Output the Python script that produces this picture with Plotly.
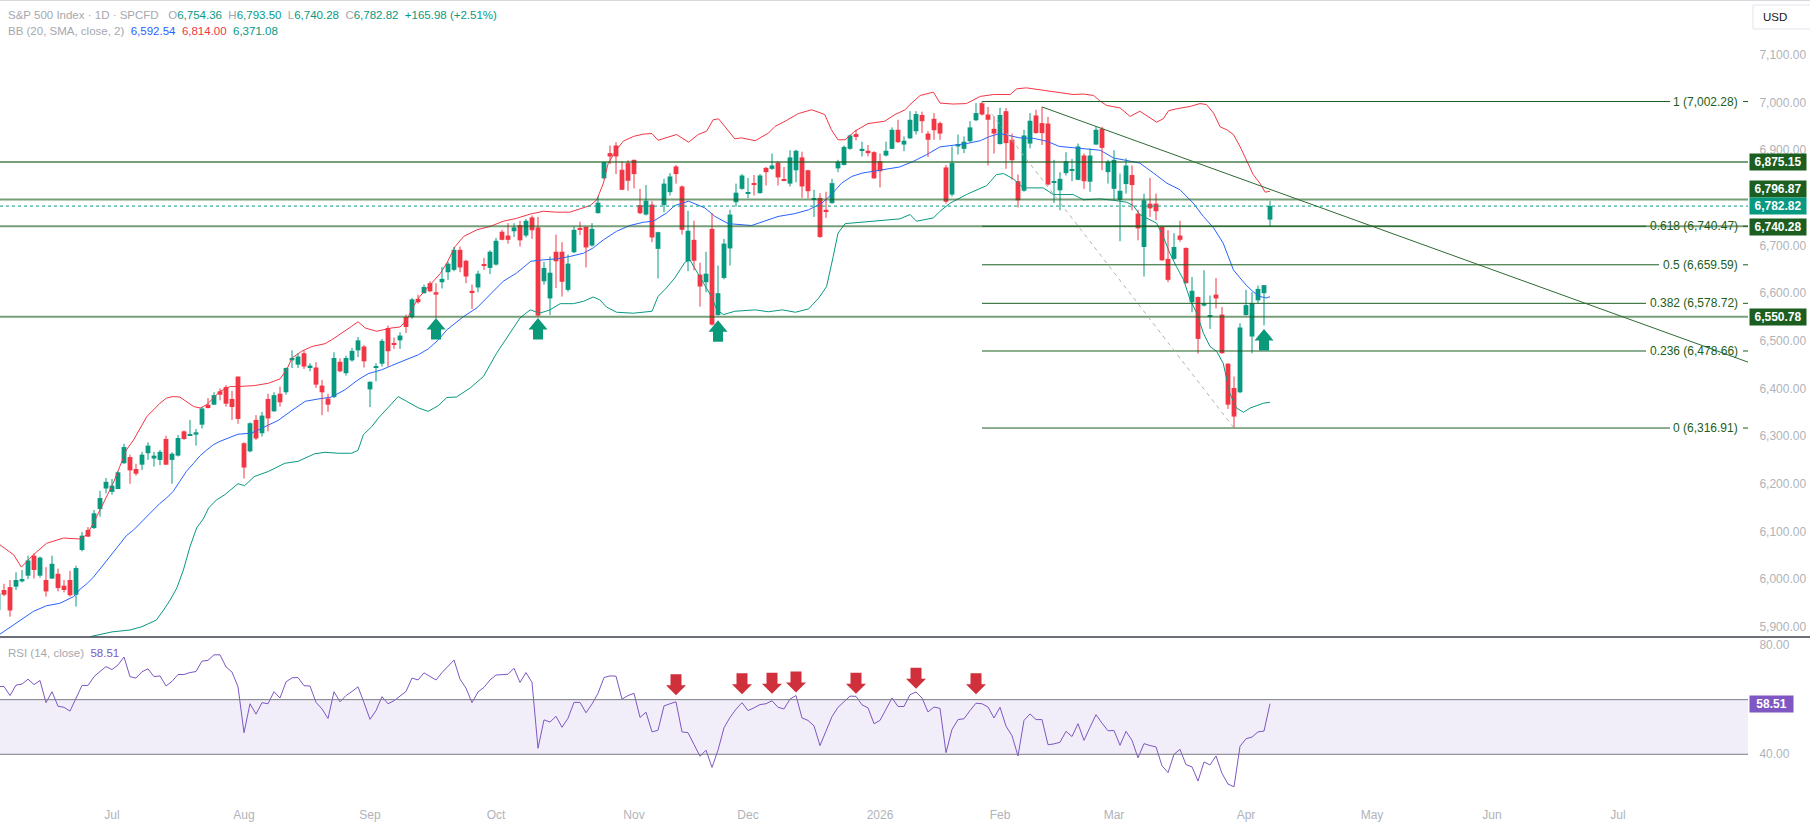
import plotly.graph_objects as go

# ---------------- data ----------------
first_bar = -19  # bar index 0 = 1 Jul 2025
open_ = [5935, 5977, 5983, 5984, 5995, 6007, 6049, 6007, 5998, 6001,
         6011, 5986, 5998, 5967, 6061, 6103, 6107, 6147, 6190, 6183,
         6189, 6243, 6256, 6231, 6240, 6264, 6253, 6250, 6294, 6250,
         6259, 6310, 6301, 6303, 6324, 6366, 6366, 6394, 6403, 6378,
         6425, 6285, 6268, 6334, 6306, 6378, 6352, 6389, 6392, 6459,
         6450, 6474, 6443, 6444, 6406, 6379, 6382, 6456, 6432, 6459,
         6480, 6488, 6398, 6443, 6452, 6527, 6495, 6501, 6550, 6550,
         6588, 6600, 6621, 6602, 6623, 6644, 6649, 6691, 6668, 6605,
         6612, 6660, 6653, 6660, 6729, 6721, 6730, 6743, 6721, 6759,
         6738, 6625, 6589, 6687, 6687, 6607, 6686, 6736, 6739, 6700,
         6768, 6841, 6894, 6910, 6859, 6873, 6880, 6785, 6765, 6786,
         6693, 6785, 6812, 6866, 6824, 6667, 6712, 6639, 6623, 6735,
         6554, 6632, 6694, 6791, 6819, 6810, 6830, 6810, 6863, 6861,
         6874, 6839, 6830, 6858, 6885, 6858, 6796, 6800, 6775, 6789,
         6862, 6869, 6903, 6934, 6900, 6899, 6896, 6877, 6889, 6903,
         6943, 6912, 6925, 6940, 6974, 6935, 6966, 6957, 6864, 6807,
         6908, 6903, 6919, 6963, 6999, 6975, 6945, 6913, 6982, 6922,
         6835, 6815, 6914, 6973, 6957, 6956, 6833, 6816, 6852, 6858,
         6838, 6889, 6834, 6912, 6945, 6854, 6819, 6796, 6829, 6848,
         6767, 6697, 6788, 6788, 6739, 6672, 6672, 6721, 6695, 6581,
         6592, 6574, 6551, 6597, 6555, 6452, 6401, 6392, 6554, 6509,
         6585, 6600, 6754.36]
high_ = [5975, 5990, 5998, 6014, 6019, 6049, 6054, 6047, 6025, 6049,
         6022, 5998, 6017, 6028, 6099, 6109, 6145, 6185, 6212, 6210,
         6226, 6284, 6261, 6242, 6267, 6287, 6267, 6271, 6301, 6266,
         6302, 6312, 6334, 6315, 6361, 6380, 6392, 6400, 6407, 6395,
         6425, 6287, 6329, 6344, 6351, 6389, 6392, 6404, 6444, 6480,
         6474, 6480, 6453, 6455, 6418, 6389, 6476, 6463, 6469, 6485,
         6508, 6491, 6415, 6453, 6504, 6532, 6507, 6518, 6555, 6590,
         6597, 6618, 6625, 6621, 6655, 6666, 6697, 6698, 6670, 6618,
         6647, 6674, 6690, 6716, 6733, 6747, 6747, 6752, 6756, 6763,
         6760, 6666, 6677, 6723, 6707, 6681, 6740, 6750, 6740, 6747,
         6803, 6876, 6910, 6917, 6877, 6879, 6880, 6819, 6827, 6793,
         6729, 6840, 6852, 6869, 6826, 6773, 6752, 6664, 6687, 6768,
         6658, 6714, 6775, 6830, 6850, 6842, 6848, 6850, 6865, 6893,
         6877, 6865, 6900, 6901, 6897, 6859, 6817, 6810, 6813, 6840,
         6880, 6910, 6933, 6943, 6918, 6911, 6898, 6893, 6918, 6948,
         6964, 6929, 6982, 6982, 6981, 6940, 6978, 6960, 6869, 6908,
         6933, 6929, 6961, 6999, 7002.28, 6991, 6971, 6989, 6989, 6935,
         6849, 6943, 6978, 6985, 6991, 6970, 6880, 6854, 6896, 6882,
         6914, 6893, 6904, 6950, 6949, 6880, 6900, 6851, 6883, 6868,
         6775, 6809, 6842, 6809, 6740, 6732, 6726, 6752, 6696, 6634,
         6593, 6648, 6595, 6632, 6571, 6453, 6425, 6537, 6607, 6602,
         6616, 6617, 6793.50]
low_ = [5930, 5964, 5921, 5977, 5993, 6000, 6001, 6003, 5963, 6000,
        5974, 5972, 5963, 5942, 6058, 6088, 6105, 6131, 6180, 6177,
        6189, 6242, 6200, 6217, 6229, 6250, 6236, 6239, 6239, 6200,
        6257, 6292, 6301, 6280, 6316, 6358, 6365, 6375, 6362, 6334,
        6326, 6211, 6266, 6292, 6299, 6310, 6351, 6362, 6387, 6443,
        6443, 6441, 6436, 6401, 6344, 6351, 6380, 6434, 6427, 6456,
        6466, 6444, 6361, 6415, 6446, 6446, 6483, 6483, 6516, 6546,
        6578, 6599, 6602, 6548, 6610, 6628, 6646, 6644, 6621, 6567,
        6602, 6649, 6640, 6658, 6711, 6704, 6718, 6698, 6717, 6714,
        6551, 6618, 6554, 6611, 6593, 6603, 6684, 6722, 6654, 6698,
        6767, 6840, 6871, 6850, 6817, 6815, 6820, 6766, 6763, 6707,
        6631, 6770, 6805, 6830, 6723, 6646, 6648, 6572, 6602, 6532,
        6553, 6629, 6658, 6782, 6817, 6799, 6805, 6809, 6826, 6859,
        6826, 6835, 6824, 6833, 6800, 6799, 6760, 6716, 6758, 6788,
        6854, 6868, 6901, 6921, 6887, 6887, 6840, 6822, 6887, 6902,
        6915, 6898, 6924, 6933, 6936, 6886, 6922, 6922, 6788, 6803,
        6891, 6894, 6917, 6961, 6973, 6868, 6893, 6912, 6861, 6838,
        6780, 6813, 6904, 6935, 6911, 6826, 6789, 6774, 6847, 6835,
        6837, 6819, 6813, 6911, 6858, 6830, 6796, 6709, 6809, 6774,
        6711, 6635, 6760, 6753, 6668, 6623, 6670, 6708, 6620, 6560,
        6473, 6572, 6525, 6568, 6473, 6357, 6316.91, 6390, 6553, 6474,
        6579, 6532, 6740.28]
close_ = [5970, 5967, 5934, 5998, 6000, 6039, 6019, 6045, 5974, 6032,
          5981, 5977, 5966, 6023, 6091, 6089, 6138, 6170, 6204, 6196,
          6224, 6277, 6228, 6221, 6261, 6280, 6259, 6267, 6240, 6263,
          6296, 6294, 6303, 6308, 6358, 6359, 6386, 6387, 6368, 6361,
          6336, 6234, 6327, 6295, 6343, 6337, 6386, 6371, 6443, 6464,
          6467, 6446, 6448, 6408, 6392, 6366, 6464, 6436, 6464, 6479,
          6501, 6457, 6414, 6446, 6500, 6478, 6493, 6511, 6529, 6587,
          6581, 6613, 6604, 6597, 6630, 6662, 6691, 6654, 6635, 6602,
          6641, 6658, 6687, 6710, 6712, 6712, 6738, 6711, 6752, 6732,
          6553, 6653, 6643, 6667, 6624, 6662, 6733, 6734, 6696, 6735,
          6790, 6875, 6887, 6887, 6817, 6836, 6850, 6768, 6794, 6717,
          6728, 6830, 6845, 6850, 6733, 6731, 6668, 6614, 6641, 6534,
          6600, 6704, 6765, 6811, 6847, 6811, 6829, 6847, 6854, 6868,
          6843, 6837, 6885, 6899, 6824, 6814, 6798, 6718, 6772, 6831,
          6876, 6907, 6931, 6928, 6903, 6894, 6841, 6856, 6899, 6943,
          6917, 6920, 6964, 6976, 6961, 6922, 6942, 6935, 6792, 6873,
          6913, 6918, 6948, 6978, 6975, 6964, 6935, 6974, 6915, 6879,
          6795, 6931, 6962, 6936, 6936, 6828, 6835, 6840, 6877, 6859,
          6908, 6835, 6889, 6943, 6905, 6876, 6880, 6815, 6868, 6827,
          6736, 6795, 6778, 6772, 6669, 6628, 6697, 6712, 6621, 6605,
          6504, 6579, 6554, 6589, 6474, 6366, 6341, 6528, 6575, 6579,
          6609, 6616.84, 6782.82]
rsi_values = [64.8, 64.8, 61.5, 65.3, 65.7, 67.5, 65.5, 67.0, 58.9, 62.9,
              57.6, 57.2, 55.8, 60.5, 65.2, 65.2, 68.4, 70.3, 72.1, 71.0,
              72.7, 75.6, 68.4, 67.9, 70.2, 71.3, 68.4, 68.7, 65.0, 66.7,
              69.2, 69.2, 69.9, 70.3, 74.1, 74.4, 76.4, 76.4, 72.0, 70.1,
              64.7, 47.9, 58.5, 54.7, 58.9, 58.5, 62.9, 60.6, 66.5, 68.0,
              68.1, 65.1, 65.0, 59.0, 56.6, 53.1, 62.9, 59.2, 61.5, 63.0,
              64.7, 58.9, 52.8, 56.0, 61.1, 58.5, 59.6, 61.3, 63.0, 67.9,
              67.2, 69.8, 68.4, 67.2, 69.9, 72.4, 74.5, 67.5, 64.2, 58.9,
              62.8, 64.5, 67.2, 69.0, 69.2, 69.3, 71.5, 66.3, 69.9, 66.3,
              42.2, 52.6, 51.8, 53.9, 49.9, 53.2, 59.0, 59.0, 55.2, 58.4,
              62.3, 68.1, 68.7, 68.6, 60.2, 61.5, 62.3, 53.5, 55.4, 48.2,
              48.8, 57.7, 58.5, 59.2, 48.2, 47.9, 43.6, 39.3, 41.5, 35.2,
              41.5, 49.7, 53.5, 56.5, 58.9, 56.0, 57.0, 58.2, 58.5, 59.6,
              57.2, 56.6, 60.2, 61.5, 53.3, 52.4, 50.4, 43.2, 48.5, 53.8,
              57.2, 59.4, 61.3, 61.2, 58.1, 57.0, 51.2, 52.4, 56.6, 60.6,
              57.5, 57.5, 61.8, 62.8, 60.6, 55.5, 57.3, 56.8, 40.6, 49.1,
              52.7, 53.0, 56.0, 58.7, 58.5, 57.3, 53.3, 57.2, 50.3, 46.8,
              39.4, 52.4, 54.8, 52.7, 52.7, 43.5, 43.8, 44.4, 48.4, 46.5,
              51.2, 45.1, 49.9, 54.5, 51.4, 48.6, 48.7, 43.3, 48.4, 45.1,
              38.7, 43.9, 43.2, 42.7, 35.8, 33.3, 40.0, 41.8, 36.2, 35.4,
              30.2, 37.2, 36.1, 39.4, 33.0, 29.1, 28.1, 42.9, 45.7, 46.3,
              48.2, 48.5, 58.51]

# Bollinger bands (20, 2) sampled along the picture: (bar index, price)
bb_upper_pts = [(-18.7, 6072), (-16.4, 6051), (-15.1, 6025), (-13.1, 6051), (-10.9, 6075), (-8.1, 6086),
                (-5.3, 6084), (-4.2, 6093), (-3.1, 6117), (-2.0, 6145), (-0.9, 6173), (0.2, 6201), (1.3, 6236),
                (2.4, 6271), (3.6, 6292), (4.7, 6317), (5.8, 6341), (6.9, 6355), (8.0, 6369), (9.1, 6380),
                (10.2, 6383), (11.3, 6382), (12.4, 6373), (13.6, 6362), (14.7, 6359), (15.8, 6366), (16.9, 6380),
                (18.0, 6394), (19.7, 6404), (21.0, 6404), (23.7, 6406), (26.1, 6411), (28.0, 6420), (29.1, 6439),
                (30.0, 6464), (31.6, 6478), (33.3, 6488), (35.5, 6494), (36.6, 6502), (38.8, 6520), (39.9, 6530),
                (41.0, 6540), (42.2, 6527), (44.1, 6520), (45.2, 6523), (46.6, 6527), (48.0, 6529), (49.1, 6543),
                (50.2, 6572), (51.3, 6593), (52.4, 6609), (53.5, 6625), (54.7, 6641), (55.8, 6663), (57.2, 6698),
                (58.6, 6719), (60.8, 6733), (63.0, 6740), (65.2, 6751), (67.4, 6757), (69.7, 6766), (71.9, 6772),
                (74.1, 6770), (76.3, 6770), (78.0, 6777), (79.7, 6784), (80.8, 6796), (81.9, 6831), (82.7, 6873),
                (84.1, 6901), (85.2, 6919), (86.9, 6929), (88.6, 6934), (90.0, 6935), (91.0, 6921), (94.1, 6933),
                (96.1, 6917), (97.7, 6933), (99.1, 6940), (100.2, 6964), (101.1, 6966), (103.8, 6924), (104.9, 6926),
                (107.2, 6920), (109.4, 6936), (110.5, 6950), (112.2, 6961), (114.4, 6977), (116.6, 6985),
                (118.8, 6975), (119.9, 6943), (121.0, 6922), (122.2, 6922), (123.8, 6940), (126.0, 6956),
                (128.8, 6961), (130.5, 6975), (132.2, 6985), (133.0, 6996), (134.7, 7015), (136.9, 7022),
                (138.0, 6999), (140.2, 6997), (142.4, 6998), (144.7, 7013), (146.9, 7017), (149.7, 7017),
                (150.8, 7029), (152.4, 7031), (154.7, 7027), (156.9, 7023), (158.6, 7020), (160.2, 7017),
                (161.9, 7018), (163.6, 7015), (164.7, 7003), (165.8, 6994), (168.0, 6989), (169.7, 6971),
                (171.3, 6982), (173.0, 6968), (174.1, 6959), (175.2, 6966), (176.1, 6983), (177.4, 6987),
                (179.7, 6992), (181.3, 6998), (182.4, 6996), (183.6, 6978), (184.7, 6949), (185.8, 6943),
                (186.9, 6933), (188.0, 6908), (189.1, 6877), (190.2, 6849), (191.3, 6831), (192.2, 6812),
                (193.0, 6814.00)]
bb_basis_pts = [(-18.7, 5884), (-17.0, 5898), (-15.1, 5914), (-13.1, 5932), (-10.9, 5944), (-8.7, 5949),
                (-6.4, 5963), (-5.3, 5979), (-4.2, 5990), (-3.1, 6004), (-2.0, 6021), (-0.9, 6039), (0.2, 6056),
                (1.3, 6075), (2.4, 6091), (3.6, 6103), (4.7, 6117), (5.8, 6131), (6.9, 6145), (8.0, 6159),
                (9.1, 6170), (10.2, 6184), (11.3, 6205), (12.4, 6226), (13.6, 6243), (14.7, 6259), (15.8, 6271),
                (16.9, 6282), (18.0, 6289), (19.7, 6298), (21.0, 6304), (23.2, 6306), (25.5, 6320), (27.7, 6333),
                (30.0, 6354), (32.2, 6373), (34.4, 6378), (36.6, 6382), (38.8, 6397), (41.0, 6418), (42.7, 6431),
                (44.9, 6439), (46.6, 6448), (48.8, 6459), (51.1, 6471), (52.7, 6483), (54.4, 6502), (55.8, 6523),
                (57.2, 6537), (58.6, 6551), (60.8, 6569), (63.0, 6597), (65.2, 6625), (67.4, 6642), (69.8, 6667),
                (71.9, 6670), (74.1, 6672), (76.3, 6677), (78.6, 6684), (80.2, 6695), (81.9, 6712), (84.1, 6730),
                (86.3, 6742), (88.6, 6749), (90.2, 6751), (92.4, 6768), (93.8, 6784), (96.1, 6793), (98.8, 6779),
                (100.5, 6761), (102.7, 6746), (106.6, 6742), (108.8, 6751), (111.0, 6761), (113.8, 6767),
                (116.1, 6775), (118.3, 6789), (119.9, 6807), (121.6, 6831), (123.3, 6845), (125.0, 6852),
                (127.2, 6856), (129.4, 6861), (131.3, 6865), (133.6, 6877), (135.8, 6891), (138.0, 6907),
                (140.2, 6910), (142.4, 6914), (144.7, 6920), (146.3, 6929), (148.0, 6935), (149.7, 6931),
                (151.3, 6926), (153.6, 6925), (155.8, 6919), (157.9, 6908), (160.2, 6905), (162.4, 6903),
                (164.7, 6900), (166.9, 6884), (169.1, 6879), (171.3, 6873), (173.6, 6852), (175.8, 6831),
                (178.0, 6817), (180.2, 6789), (181.9, 6761), (183.6, 6737), (185.2, 6705), (186.9, 6649),
                (188.0, 6632), (189.1, 6616), (190.2, 6603), (191.3, 6593), (192.4, 6590), (193.0, 6592.54)]
bb_lower_pts = [(-18.7, 5800), (-10.0, 5830), (-5.0, 5868), (-3.3, 5880), (0.0, 5889), (3.0, 5893), (5.0, 5900),
                (7.4, 5914), (8.6, 5935), (9.7, 5956), (10.8, 5981), (11.9, 6019), (13.0, 6068), (14.1, 6107),
                (15.2, 6126), (16.1, 6149), (17.4, 6166), (18.8, 6177), (21.0, 6200), (22.1, 6196), (23.7, 6215),
                (26.1, 6226), (28.8, 6243), (31.0, 6247), (33.8, 6263), (35.5, 6266), (37.7, 6264), (39.9, 6264),
                (41.0, 6270), (41.9, 6303), (43.3, 6320), (44.4, 6338), (46.1, 6361), (47.7, 6383), (49.1, 6373),
                (51.1, 6359), (52.7, 6352), (54.4, 6364), (55.8, 6381), (57.4, 6382), (59.7, 6401), (61.9, 6425),
                (64.1, 6474), (65.8, 6506), (68.0, 6548), (69.7, 6565), (71.3, 6558), (73.0, 6565), (74.7, 6578),
                (76.9, 6578), (78.6, 6583), (80.2, 6592), (81.3, 6586), (82.4, 6571), (84.1, 6560), (86.9, 6558),
                (88.6, 6560), (90.0, 6562), (91.0, 6593), (92.4, 6611), (93.8, 6632), (95.5, 6665), (96.3, 6670),
                (97.4, 6646), (98.8, 6618), (99.9, 6593), (100.8, 6565), (101.9, 6555), (103.8, 6562),
                (107.2, 6565), (109.4, 6561), (111.7, 6565), (113.9, 6560), (116.1, 6567), (117.8, 6590),
                (119.1, 6614), (120.2, 6677), (121.0, 6726), (122.2, 6746), (125.0, 6749), (128.3, 6753),
                (131.3, 6756), (133.0, 6765), (134.1, 6751), (136.9, 6758), (138.0, 6772), (139.7, 6789),
                (142.4, 6807), (145.8, 6826), (147.4, 6849), (148.6, 6851), (150.2, 6840), (151.9, 6821),
                (155.2, 6821), (156.9, 6807), (160.2, 6807), (161.9, 6796), (164.7, 6798), (166.9, 6795),
                (169.1, 6791), (170.2, 6784), (171.3, 6765), (173.0, 6754), (174.1, 6747), (175.2, 6719),
                (176.3, 6684), (177.4, 6656), (178.6, 6628), (179.7, 6586), (180.8, 6558), (181.9, 6516),
                (183.0, 6488), (184.1, 6478), (185.2, 6453), (186.3, 6390), (187.4, 6359), (188.6, 6350),
                (189.7, 6359), (190.8, 6364), (191.9, 6369), (193.0, 6371.08)]

month_ticks = [0, 22, 43, 64, 87, 106, 128, 148, 167, 189, 210, 230, 251]
month_labels = ["Jul", "Aug", "Sep", "Oct", "Nov", "Dec", "2026", "Feb", "Mar", "Apr", "May", "Jun", "Jul"]
# 6,800.00 is fully covered by the price labels in the picture, so it is not listed
price_ticks = [5900, 6000, 6100, 6200, 6300, 6400, 6500, 6600, 6700, 6900, 7000, 7100]
rsi_ticks = [40, 80]
rsi_bands = [40, 60]

h_levels = [6875.15, 6796.87, 6740.28, 6550.78]
fib_ratios = ["1", "0.618", "0.5", "0.382", "0.236", "0"]
fib_levels = [7002.28, 6740.47, 6659.59, 6578.72, 6478.66, 6316.91]
fib_start_bar = 145
fib_diag = [(145, 7002.28), (187, 6316.91)]
trend_anchor = [(155, 6991), (193, 6818)]
up_arrows = [(54, 6548), (71, 6548), (101, 6543), (192, 6525)]
down_arrows = [(94, 61.6), (105, 62.0), (110, 62.2), (114, 62.6), (124, 62.2), (134, 64.0), (144, 62.0)]

# ---------------- layout constants ----------------
FIG_W, FIG_H = 1810, 826
M_R, M_B = 62, 26
PW, PH = FIG_W - M_R, FIG_H - M_B
MAIN_H = 637
X_RANGE = [-18.667, 272.667]
Y_RANGE = [5878.3, 7215.4]
RSI_RANGE = [23.27, 82.93]
SPLIT = (PH - MAIN_H) / PH

UP, DOWN = "#089981", "#f23645"
BLUE, PURPLE = "#2962ff", "#7e57c2"
GRAY_TXT = "#a6a8ae"
AX_TXT = "#b0b3b9"
DKGREEN = "#1b5e20"
LVL_LINE = "rgba(27,94,32,0.6)"
FONT = "Liberation Sans"


def px_to_bar(px):
    return X_RANGE[0] + px * (X_RANGE[1] - X_RANGE[0]) / PW


def ypx_paper(py):
    return (PH - py) / PH


bars = list(range(first_bar, first_bar + len(close_)))

fig = go.Figure()

# Bollinger bands
for pts, col in [(bb_upper_pts, DOWN), (bb_lower_pts, UP), (bb_basis_pts, BLUE)]:
    fig.add_trace(go.Scatter(x=[p[0] for p in pts], y=[p[1] for p in pts], mode="lines",
                             line=dict(color=col, width=1), hoverinfo="skip", xaxis="x", yaxis="y"))

# candles: wicks + bodies
for is_up, col in [(True, UP), (False, DOWN)]:
    wx, wy, bx, bb, bh = [], [], [], [], []
    for b, o, h, l, c in zip(bars, open_, high_, low_, close_):
        if (c >= o) != is_up:
            continue
        wx += [b, b, None]
        wy += [l, h, None]
        bx.append(b)
        bb.append(min(o, c))
        bh.append(max(abs(c - o), 1.6))
    fig.add_trace(go.Scatter(x=wx, y=wy, mode="lines", line=dict(color=col, width=1),
                             hoverinfo="skip", xaxis="x", yaxis="y"))
    fig.add_trace(go.Bar(x=bx, y=bh, base=bb, width=0.8, marker=dict(color=col, line=dict(width=0)),
                         hoverinfo="skip", xaxis="x", yaxis="y"))

# RSI
fig.add_trace(go.Scatter(x=bars, y=rsi_values, mode="lines", line=dict(color=PURPLE, width=1),
                         hoverinfo="skip", xaxis="x2", yaxis="y2"))

shapes = []
# RSI band
shapes.append(dict(type="rect", xref="paper", yref="y2", x0=0, x1=1, y0=rsi_bands[0], y1=rsi_bands[1],
                   fillcolor="rgba(126,87,194,0.1)", line=dict(width=0), layer="below"))
for v in rsi_bands:
    shapes.append(dict(type="line", xref="paper", yref="y2", x0=0, x1=1, y0=v, y1=v,
                       line=dict(color="#787b86", width=1)))
# horizontal levels
for v in h_levels:
    shapes.append(dict(type="line", xref="paper", yref="y", x0=0, x1=1, y0=v, y1=v,
                       line=dict(color=LVL_LINE, width=2)))
# last price dotted line
shapes.append(dict(type="line", xref="paper", yref="y", x0=0, x1=1, y0=close_[-1], y1=close_[-1],
                   line=dict(color=UP, width=1, dash="dot")))
# fib retracement
fib_text_left = {"1": 1675, "0": 1675, "0.5": 1664}
for r, v in zip(fib_ratios, fib_levels):
    left = fib_text_left.get(r, 1651)
    shapes.append(dict(type="line", xref="x", yref="y", x0=fib_start_bar, x1=px_to_bar(left - 5), y0=v, y1=v,
                       line=dict(color=DKGREEN, width=1)))
    shapes.append(dict(type="line", xref="paper", yref="y", x0=1743 / PW, x1=1, y0=v, y1=v,
                       line=dict(color=DKGREEN, width=1)))
shapes.append(dict(type="line", xref="x", yref="y", x0=fib_diag[0][0], y0=fib_diag[0][1],
                   x1=fib_diag[1][0], y1=fib_diag[1][1], line=dict(color="#a9bba9", width=1, dash="4px,4px")))
# trend line (ray to the right edge)
(tx0, ty0), (tx1, ty1) = trend_anchor
slope = (ty1 - ty0) / (tx1 - tx0)
shapes.append(dict(type="line", xref="x", yref="y", x0=tx0, y0=ty0, x1=X_RANGE[1],
                   y1=ty0 + slope * (X_RANGE[1] - tx0), line=dict(color="#2f6b31", width=1)))
# arrows
up_path = "M0,0 L9.5,-11.5 L5,-11.5 L5,-21.5 L-5,-21.5 L-5,-11.5 L-9.5,-11.5 Z"
for b, p in up_arrows:
    shapes.append(dict(type="path", xref="x", yref="y", xsizemode="pixel", ysizemode="pixel",
                       xanchor=b, yanchor=p, path=up_path, fillcolor="#0a9a7a", line=dict(width=0)))
down_path = "M0,0 L10,10 L5.5,10 L5.5,21 L-5.5,21 L-5.5,10 L-10,10 Z"
for b, v in down_arrows:
    shapes.append(dict(type="path", xref="x2", yref="y2", xsizemode="pixel", ysizemode="pixel",
                       xanchor=b, yanchor=v, path=down_path, fillcolor="#d0303c", line=dict(width=0)))
# pane separator and top border
shapes.append(dict(type="line", xref="paper", yref="paper", x0=0, x1=FIG_W / PW, y0=SPLIT, y1=SPLIT,
                   line=dict(color="#3b3f4a", width=1.5)))
shapes.append(dict(type="line", xref="paper", yref="paper", x0=0, x1=FIG_W / PW, y0=ypx_paper(0.5),
                   y1=ypx_paper(0.5), line=dict(color="#d6d8dd", width=1)))
# USD box
shapes.append(dict(type="rect", xref="paper", yref="paper", x0=1753 / PW, x1=1816 / PW,
                   y0=ypx_paper(29), y1=ypx_paper(5), line=dict(color="#e0e3eb", width=1), fillcolor="white"))

ann = []
NB = "\u00a0"


def span(t, c):
    return f"<span style='color:{c}'>{t}</span>"


chg = close_[-1] - close_[-2]
pct = chg / close_[-2] * 100
line1 = (span("S&amp;P 500 Index · 1D · SPCFD", GRAY_TXT) + NB * 3 +
         span("O", GRAY_TXT) + span(f"{open_[-1]:,.2f}", UP) + NB * 2 +
         span("H", GRAY_TXT) + span(f"{high_[-1]:,.2f}", UP) + NB * 2 +
         span("L", GRAY_TXT) + span(f"{low_[-1]:,.2f}", UP) + NB * 2 +
         span("C", GRAY_TXT) + span(f"{close_[-1]:,.2f}", UP) + NB * 2 +
         span(f"{chg:+,.2f} ({pct:+.2f}%)", UP))
line2 = (span("BB (20, SMA, close, 2)", GRAY_TXT) + NB * 2 +
         span(f"{bb_basis_pts[-1][1]:,.2f}", BLUE) + NB * 2 +
         span(f"{bb_upper_pts[-1][1]:,.2f}", DOWN) + NB * 2 +
         span(f"{bb_lower_pts[-1][1]:,.2f}", UP))
line3 = span("RSI (14, close)", GRAY_TXT) + NB * 2 + span(f"{rsi_values[-1]:.2f}", PURPLE)
for txt, py in [(line1, 15), (line2, 31), (line3, 653)]:
    ann.append(dict(text=txt, xref="paper", yref="paper", x=6 / PW, y=ypx_paper(py), xanchor="left",
                    yanchor="middle", showarrow=False, font=dict(size=11.5, family=FONT)))

# fib labels
for r, v in zip(fib_ratios, fib_levels):
    ann.append(dict(text=f"{r} ({v:,.2f})", xref="paper", yref="y", x=1740 / PW, y=v, xanchor="right",
                    yanchor="middle", showarrow=False, font=dict(size=12, family=FONT, color=DKGREEN)))

# price labels on the scale
box_specs = [(6875.15, DKGREEN, 0), (6796.87, DKGREEN, 10.5), (close_[-1], UP, 0), (6740.28, DKGREEN, -1),
             (6550.78, DKGREEN, 0)]
for v, col, shift in box_specs:
    ann.append(dict(text=f"<b>{v:,.2f}</b>", xref="paper", yref="y", x=1749 / PW, y=v, xanchor="left",
                    yanchor="middle", yshift=shift, showarrow=False, bgcolor=col, width=56, height=16,
                    borderpad=0, font=dict(size=12, family=FONT, color="white")))
ann.append(dict(text=f"<b>{rsi_values[-1]:.2f}</b>", xref="paper", yref="y2", x=1749 / PW, y=rsi_values[-1],
                xanchor="left", yanchor="middle", showarrow=False, bgcolor=PURPLE, width=43, height=16,
                borderpad=0, font=dict(size=12, family=FONT, color="white")))
ann.append(dict(text="USD", xref="paper", yref="paper", x=1761 / PW, y=ypx_paper(17), xanchor="left",
                yanchor="middle", showarrow=False, font=dict(size=11.5, family=FONT, color="#131722")))

axis_common = dict(showgrid=False, zeroline=False, showline=False)
fig.update_layout(
    width=FIG_W, height=FIG_H, margin=dict(l=0, r=M_R, t=0, b=M_B, pad=0),
    paper_bgcolor="white", plot_bgcolor="white", showlegend=False, barmode="overlay",
    font=dict(family=FONT, size=12, color=AX_TXT),
    xaxis=dict(domain=[0, 1], range=X_RANGE, anchor="y", showticklabels=False, ticks="", **axis_common),
    yaxis=dict(domain=[SPLIT, 1], range=Y_RANGE, anchor="x", side="right", tickvals=price_ticks,
               tickformat=",.2f", ticks="outside", ticklen=8, tickcolor="rgba(0,0,0,0)",
               tickfont=dict(size=12, color=AX_TXT), **axis_common),
    xaxis2=dict(domain=[0, 1], range=X_RANGE, anchor="y2", matches="x", tickvals=month_ticks,
                ticktext=month_labels, ticks="outside", ticklen=4, tickcolor="rgba(0,0,0,0)",
                tickfont=dict(size=12, color=AX_TXT), **axis_common),
    yaxis2=dict(domain=[0, SPLIT], range=RSI_RANGE, anchor="x2", side="right", tickvals=rsi_ticks,
                tickformat=".2f", ticks="outside", ticklen=8, tickcolor="rgba(0,0,0,0)",
                tickfont=dict(size=12, color=AX_TXT), **axis_common),
    shapes=shapes, annotations=ann,
)

fig.write_html("out.html", config={"displayModeBar": False})
